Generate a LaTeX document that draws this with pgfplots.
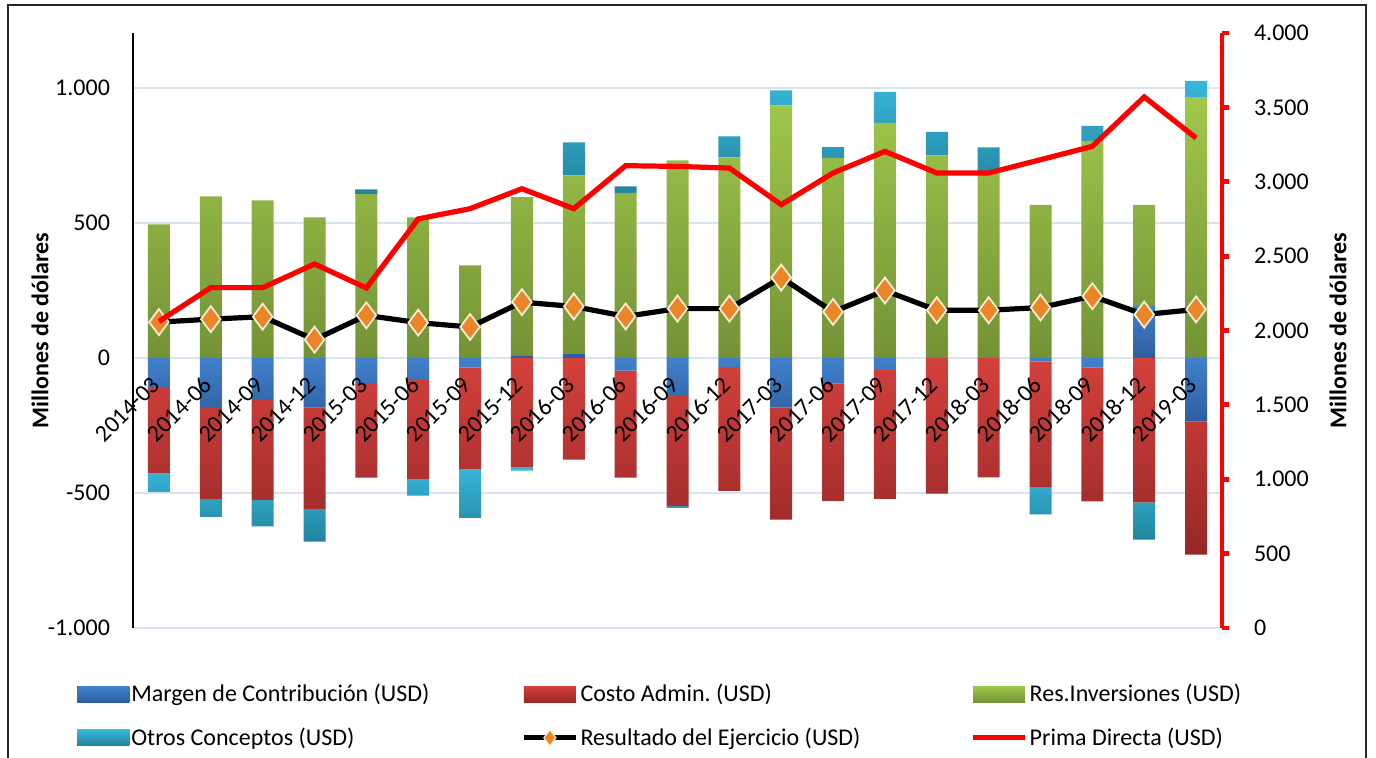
\documentclass[border=0pt]{standalone}
\usepackage{fontspec}
\setmainfont{Carlito}
\usepackage{pgfplots}
\usepackage{pgfplotstable}
\pgfplotsset{compat=1.18}

\definecolor{mblueT}{RGB}{66,128,204}
\definecolor{mblueB}{RGB}{44,94,160}
\definecolor{credT}{RGB}{212,64,60}
\definecolor{credB}{RGB}{150,40,40}
\definecolor{rgreenT}{RGB}{160,200,76}
\definecolor{rgreenB}{RGB}{116,146,54}
\definecolor{ocyanT}{RGB}{56,182,218}
\definecolor{ocyanB}{RGB}{34,132,158}
\definecolor{dorange}{RGB}{236,132,40}
\definecolor{cream}{RGB}{246,236,212}
\definecolor{gridblue}{RGB}{216,228,242}

% valores en millones de USD; margen y otros separados en parte positiva y negativa
\pgfplotstableread{
x  mpos mneg costo res opos oneg result prima
0  0    -107 -320  495 0    -69  133 2061
1  0    -181 -341  599 0    -66  144 2288
2  0    -155 -370  584 0    -99  153 2288
3  0    -183 -379  521 0    -118 68  2447
4  0    -92  -351  607 18   0    158 2286
5  0    -81  -367  521 0    -62  131 2750
6  0    -36  -375  343 0    -181 115 2819
7  8    0    -403  588 0    -14  207 2953
8  17   0    -376  660 122  0    191 2819
9  0    -47  -396  612 24   0    154 3108
10 0    -137 -412  732 0    -6   183 3103
11 0    -33  -459  743 78   0    183 3092
12 0    -183 -416  936 55   0    298 2846
13 0    -94  -436  741 40   0    171 3059
14 0    -44  -478  871 115  0    250 3204
15 0    0    -502  751 87   0    177 3059
16 0    0    -442  692 88   0    177 3059
17 0    -13  -464  567 0    -102 187 3148
18 0    -35  -496  804 56   0    229 3238
19 192  0    -535  375 0    -138 161 3570
20 0    -235 -493  966 61   0    180 3294
}\datos

\pgfplotsset{
  base/.style={
    scale only axis, width=544.5pt, height=297.5pt,
    at={(66.5pt,65pt)}, anchor=south west,
    xmin=-0.5, xmax=20.5,
    tick label style={font=\fontsize{12}{14}\selectfont},
    /pgf/number format/.cd, 1000 sep={.}, assume math mode=true,
  },
  azul/.style={draw=none, top color=mblueT, bottom color=mblueB},
  rojo/.style={draw=none, top color=credT, bottom color=credB},
  verde/.style={draw=none, top color=rgreenT, bottom color=rgreenB},
  celeste/.style={draw=none, top color=ocyanT, bottom color=ocyanB},
  legbar/.style={legend image code/.code={\fill[##1] (0pt,-4pt) rectangle (26pt,4pt);}},
  legline/.style={legend image code/.code={\draw[##1, mark repeat=2, mark phase=2] plot coordinates {(0pt,0pt) (13pt,0pt) (26pt,0pt)};}},
}

\begin{document}
\begin{tikzpicture}[x=1pt,y=1pt]
\path[use as bounding box] (0,0) rectangle (688,379);
\draw[line width=1pt, black!85] (4,-5) -- (4,376.5) -- (683,376.5) -- (683,-5);

% barras positivas, rejilla y eje izquierdo
\begin{axis}[base,
  ymin=-1000, ymax=1204,
  ybar stacked, bar width=11pt,
  axis y line*=left, axis x line=none,
  xtick=\empty,
  ytick={-1000,-500,0,500,1000},
  ymajorgrids, grid style={draw=gridblue, line width=0.9pt},
  y axis line style={draw=black, line width=0.6pt},
  ytick style={draw=none},
  yticklabel style={xshift=-8pt},
  ylabel={Millones de dólares},
  every axis y label/.style={at={(axis description cs:-0.0854,0.5)}, rotate=90, anchor=center,
    font=\fontsize{12}{14}\selectfont\bfseries},
]
  \addplot[azul] table[x=x,y=mpos]{\datos};
  \addplot[verde] table[x=x,y=res]{\datos};
  \addplot[celeste] table[x=x,y=opos]{\datos};
\end{axis}

% barras negativas, fechas y resultado
\begin{axis}[base,
  ymin=-1000, ymax=1204,
  ybar stacked, bar width=11pt,
  axis on top,
  axis x line*=middle, axis y line=none,
  x axis line style={draw=none},
  xtick={0,...,20},
  xticklabels={2014-03,2014-06,2014-09,2014-12,2015-03,2015-06,2015-09,2015-12,2016-03,2016-06,2016-09,2016-12,2017-03,2017-06,2017-09,2017-12,2018-03,2018-06,2018-09,2018-12,2019-03},
  xtick style={draw=none},
  xticklabel style={yshift=-9pt, xshift=1pt, rotate=45, anchor=east},
]
  \addplot[azul] table[x=x,y=mneg]{\datos};
  \addplot[rojo] table[x=x,y=costo]{\datos};
  \addplot[celeste] table[x=x,y=oneg]{\datos};
  \addplot[sharp plot, stack plots=false, black, line width=2.6pt,
    mark=diamond*, mark size=6.5pt,
    mark options={fill=dorange, draw=cream, line width=0.9pt}]
    table[x=x,y=result]{\datos};
\end{axis}

% eje derecho: prima directa
\begin{axis}[base,
  ymin=0, ymax=4000,
  axis y line*=right, axis x line=none,
  xtick=\empty,
  ytick distance=500,
  y axis line style={draw=red, line width=2.4pt},
  ytick style={draw=red, line width=2.4pt},
  tick align=outside, major tick length=3.5pt,
  yticklabel style={xshift=9pt},
  ylabel={Millones de dólares},
  every axis y label/.style={at={(axis description cs:1.1065,0.5)}, rotate=90, anchor=center,
    font=\fontsize{12}{14}\selectfont\bfseries},
  legend columns=3,
  legend cell align=left,
  legend style={draw=none, fill=none, at={(axis description cs:-0.057,-0.08)}, anchor=north west,
    font=\fontsize{12}{14}\selectfont, row sep=7.5pt,
    /tikz/every even column/.append style={column sep=2pt},
    nodes={inner xsep=1pt}},
]
  \addlegendimage{legbar, azul}
  \addlegendimage{legbar, rojo}
  \addlegendimage{legbar, verde}
  \addlegendimage{legbar, celeste}
  \addlegendimage{legline, black, line width=2.6pt, mark=diamond*, mark size=4pt,
    mark options={fill=dorange, draw=cream, line width=0.6pt}}
  \addplot[legline, red, line width=2.6pt, sharp plot] table[x=x,y=prima]{\datos};
  \legend{\makebox[192pt][l]{Margen de Contribución (USD)},
    \makebox[192pt][l]{Costo Admin.\ (USD)},
    \makebox[192pt][l]{Res.Inversiones (USD)},
    \makebox[192pt][l]{Otros Conceptos (USD)},
    \makebox[192pt][l]{Resultado del Ejercicio (USD)},
    \makebox[192pt][l]{Prima Directa (USD)}}
\end{axis}
\end{tikzpicture}
\end{document}
